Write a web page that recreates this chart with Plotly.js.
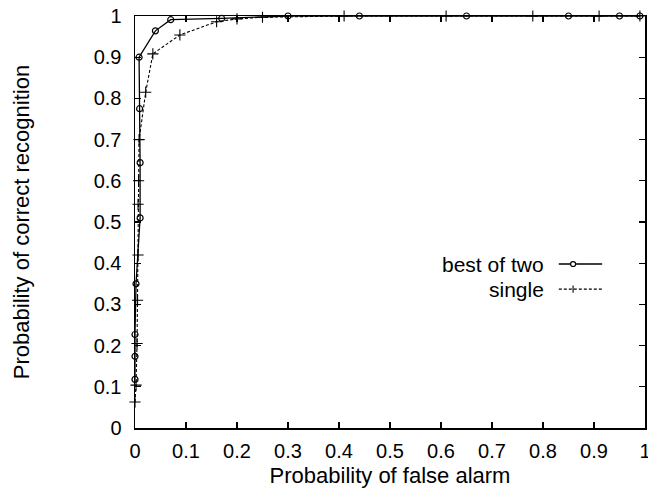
<!DOCTYPE html>
<html>
<head>
<meta charset="utf-8">
<script src="https://cdn.plot.ly/plotly-3.0.1.min.js"></script>
<style>html,body{margin:0;padding:0;background:#fff;}#chart{width:648px;height:488px;}</style>
</head>
<body>
<div id="chart"></div>
<script>
// Data
const bestX = [0, 0, 0, 0.002, 0.01, 0.01, 0.009, 0.008, 0.04, 0.07, 0.17, 0.30, 0.44, 0.65, 0.85, 0.95, 0.99];
const bestY = [0.118, 0.174, 0.227, 0.35, 0.51, 0.644, 0.775, 0.90, 0.964, 0.991, 0.994, 1, 1, 1, 1, 1, 1];
const singleX = [0, 0.002, 0.004, 0.005, 0.006, 0.006, 0.007, 0.008, 0.021, 0.035, 0.088, 0.16, 0.2, 0.25, 0.41, 0.61, 0.78, 0.91, 0.99];
const singleY = [0.063, 0.104, 0.205, 0.31, 0.42, 0.543, 0.60, 0.70, 0.815, 0.908, 0.954, 0.986, 0.993, 0.997, 1, 1, 1, 1, 1];
const tickVals = [0, 0.1, 0.2, 0.3, 0.4, 0.5, 0.6, 0.7, 0.8, 0.9, 1];
const tickText = ['0', '0.1', '0.2', '0.3', '0.4', '0.5', '0.6', '0.7', '0.8', '0.9', '1'];
const seriesNames = ['best of two', 'single'];

const FONT = 'Liberation Sans, Arial, Helvetica, sans-serif';

const traces = [
  {
    x: bestX, y: bestY, name: seriesNames[0], type: 'scatter', mode: 'lines+markers',
    line: {color: '#000', width: 1.3},
    marker: {symbol: 'circle-open', size: 6, color: '#000', line: {width: 1.2, color: '#000'}},
    cliponaxis: false
  },
  {
    x: singleX, y: singleY, name: seriesNames[1], type: 'scatter', mode: 'lines+markers',
    line: {color: '#000', width: 1.1, dash: '3px,2px'},
    marker: {symbol: 'cross-thin-open', size: 8, color: '#000', line: {width: 1.1, color: '#000'}},
    cliponaxis: false
  }
];

const axisCommon = {
  range: [0, 1], showgrid: false, zeroline: false,
  showline: true, linecolor: '#000', linewidth: 1.5, mirror: 'allticks',
  ticks: 'inside', ticklen: 6, tickwidth: 1.2, tickcolor: '#000',
  tickvals: tickVals, ticktext: tickText,
  ticklabeloverflow: 'allow',
  tickfont: {family: FONT, size: 20, color: '#000'}
};

// legend keys drawn gnuplot-style (text, then sample) in paper coordinates
const lx0 = 0.831, lx1 = 0.916, lm = 0.859;
const ly = [0.398, 0.337];
const shapes = [
  {type: 'line', xref: 'paper', yref: 'paper', x0: lx0, x1: lx1, y0: ly[0], y1: ly[0], line: {color: '#000', width: 1.3}},
  {type: 'circle', xref: 'paper', yref: 'paper', x0: lm - 0.005, x1: lm + 0.005, y0: ly[0] - 0.006, y1: ly[0] + 0.006, fillcolor: '#fff', line: {color: '#000', width: 1.2}},
  {type: 'line', xref: 'paper', yref: 'paper', x0: lx0, x1: lx1, y0: ly[1], y1: ly[1], line: {color: '#000', width: 1.1, dash: '3px,2px'}},
  {type: 'line', xref: 'paper', yref: 'paper', x0: lm, x1: lm, y0: ly[1] - 0.009, y1: ly[1] + 0.009, line: {color: '#000', width: 1.1}}
];
const annotations = seriesNames.map((n, i) => ({
  text: n, xref: 'paper', yref: 'paper', x: 0.804, y: ly[i], xanchor: 'right', yanchor: 'middle',
  showarrow: false, borderpad: 0, font: {family: FONT, size: 21, color: '#000'}
}));

const layout = {
  width: 648, height: 488,
  margin: {l: 135, r: 3, t: 16, b: 60, pad: 0},
  paper_bgcolor: '#fff', plot_bgcolor: '#fff',
  showlegend: false,
  font: {family: FONT, color: '#000'},
  xaxis: Object.assign({}, axisCommon, {
    title: {text: 'Probability of false alarm', font: {family: FONT, size: 22, color: '#000'}, standoff: 8},
    ticklabelstandoff: 4
  }),
  yaxis: Object.assign({}, axisCommon, {
    title: {text: 'Probability of correct recognition', font: {family: FONT, size: 22, color: '#000'}, standoff: 58},
    ticklabelstandoff: 8
  }),
  shapes: shapes,
  annotations: annotations
};

Plotly.newPlot('chart', traces, layout, {staticPlot: true, displayModeBar: false});
</script>
</body>
</html>
